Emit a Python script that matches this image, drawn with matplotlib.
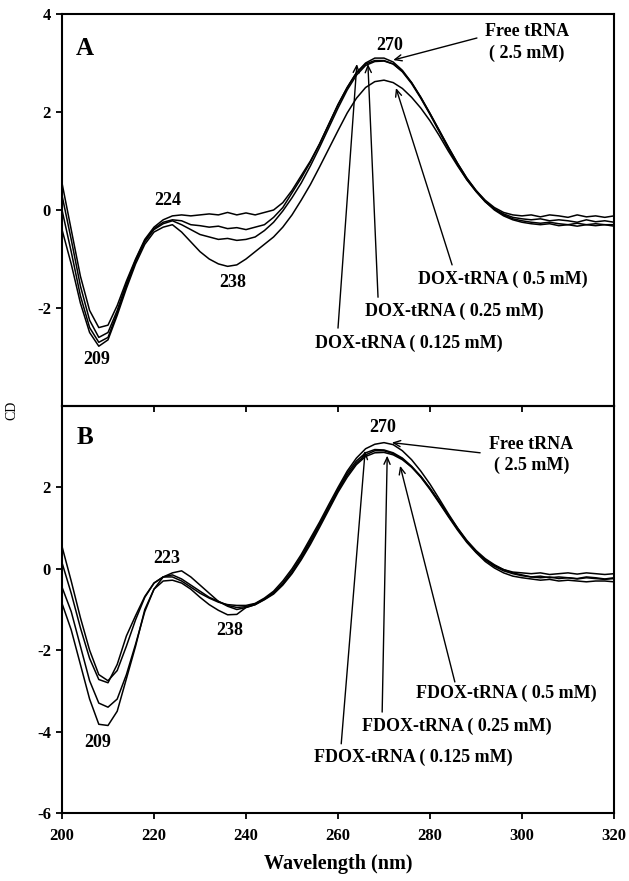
import numpy as np
import matplotlib
matplotlib.use('Agg')
from matplotlib import pyplot as plt

plt.rcParams['font.family'] = ['Liberation Serif', 'DejaVu Serif']
plt.rcParams['font.weight'] = 'bold'
plt.rcParams['axes.unicode_minus'] = False

# wavelength grid (nm)
wl = np.arange(200, 322, 2)

# Panel A: free tRNA and DOX-tRNA complexes
free_A = [0.55, -0.4, -1.35, -2.05, -2.4, -2.35, -1.95, -1.45, -1.0, -0.6,
          -0.35, -0.2, -0.12, -0.1, -0.12, -0.1, -0.08, -0.1, -0.05, -0.1,
          -0.06, -0.1, -0.05, 0.0, 0.15, 0.4, 0.7, 1.0, 1.35, 1.75,
          2.15, 2.5, 2.8, 3.0, 3.1, 3.1, 3.02, 2.85, 2.6, 2.3,
          1.97, 1.62, 1.28, 0.95, 0.65, 0.4, 0.2, 0.05, -0.05, -0.1,
          -0.12, -0.1, -0.14, -0.1, -0.12, -0.15, -0.1, -0.14, -0.12, -0.15, -0.12]
dox_0125 = [0.3, -0.6, -1.55, -2.25, -2.6, -2.5, -2.05, -1.5, -1.02, -0.62,
            -0.38, -0.25, -0.2, -0.22, -0.3, -0.32, -0.35, -0.33, -0.38, -0.36,
            -0.4, -0.35, -0.3, -0.15, 0.05, 0.35, 0.65, 0.98, 1.35, 1.75,
            2.15, 2.5, 2.8, 2.98, 3.05, 3.05, 2.98, 2.82, 2.58, 2.28,
            1.95, 1.6, 1.25, 0.92, 0.62, 0.38, 0.17, 0.02, -0.08, -0.15,
            -0.18, -0.2, -0.18, -0.22, -0.2, -0.22, -0.25, -0.2, -0.24, -0.22, -0.25]
dox_025 = [0.0, -0.85, -1.75, -2.4, -2.7, -2.6, -2.1, -1.55, -1.05, -0.65,
           -0.4, -0.28, -0.22, -0.3, -0.4, -0.5, -0.55, -0.6, -0.58, -0.62,
           -0.6, -0.55, -0.42, -0.25, -0.02, 0.25, 0.55, 0.9, 1.28, 1.68,
           2.08, 2.45, 2.75, 2.95, 3.03, 3.04, 2.98, 2.83, 2.6, 2.3,
           1.97, 1.63, 1.28, 0.95, 0.65, 0.4, 0.18, 0.02, -0.1, -0.18,
           -0.22, -0.25, -0.27, -0.25, -0.28, -0.3, -0.27, -0.3, -0.28, -0.3, -0.3]
dox_05 = [-0.4, -1.1, -1.9, -2.5, -2.78, -2.65, -2.15, -1.6, -1.1, -0.7,
          -0.45, -0.35, -0.3, -0.45, -0.65, -0.85, -1.0, -1.1, -1.15, -1.12,
          -1.0, -0.85, -0.7, -0.55, -0.35, -0.1, 0.2, 0.52, 0.88, 1.25,
          1.62, 1.98, 2.28, 2.5, 2.62, 2.65, 2.6, 2.48, 2.3, 2.08,
          1.82, 1.52, 1.2, 0.9, 0.62, 0.38, 0.17, 0.0, -0.12, -0.2,
          -0.25, -0.28, -0.3, -0.28, -0.32, -0.3, -0.33, -0.3, -0.32, -0.3, -0.33]

# Panel B: free tRNA and FDOX-tRNA complexes
free_B = [0.55, -0.3, -1.2, -2.0, -2.6, -2.75, -2.5, -1.9, -1.25, -0.7,
          -0.35, -0.2, -0.2, -0.3, -0.45, -0.6, -0.72, -0.82, -0.88, -0.9,
          -0.9, -0.85, -0.72, -0.55, -0.3, 0.0, 0.35, 0.75, 1.15, 1.58,
          2.0, 2.4, 2.72, 2.95, 3.06, 3.1, 3.05, 2.9, 2.68, 2.4,
          2.08, 1.72, 1.35, 1.0, 0.68, 0.42, 0.22, 0.08, -0.02, -0.08,
          -0.1, -0.12, -0.1, -0.14, -0.12, -0.1, -0.13, -0.1, -0.12, -0.14, -0.12]
fdox_0125 = [0.15, -0.6, -1.45, -2.2, -2.72, -2.8, -2.35, -1.65, -1.15, -0.68,
             -0.35, -0.2, -0.15, -0.25, -0.4, -0.55, -0.7, -0.8, -0.9, -0.95,
             -0.93, -0.86, -0.74, -0.58, -0.35, -0.05, 0.3, 0.7, 1.1, 1.52,
             1.95, 2.35, 2.65, 2.85, 2.93, 2.92, 2.85, 2.72, 2.52, 2.27,
             1.97, 1.64, 1.3, 0.97, 0.67, 0.42, 0.22, 0.06, -0.05, -0.12,
             -0.17, -0.2, -0.18, -0.22, -0.2, -0.22, -0.24, -0.2, -0.22, -0.25, -0.22]
fdox_025 = [-0.45, -1.05, -1.9, -2.75, -3.3, -3.4, -3.2, -2.6, -1.85, -1.05,
            -0.5, -0.2, -0.1, -0.05, -0.2, -0.4, -0.6, -0.8, -0.92, -1.0,
            -0.95, -0.88, -0.75, -0.6, -0.38, -0.1, 0.25, 0.65, 1.07, 1.5,
            1.92, 2.3, 2.6, 2.8, 2.9, 2.9, 2.83, 2.7, 2.5, 2.25,
            1.95, 1.62, 1.28, 0.95, 0.65, 0.4, 0.18, 0.02, -0.1, -0.18,
            -0.22, -0.25, -0.28, -0.26, -0.3, -0.28, -0.3, -0.32, -0.3, -0.3, -0.32]
fdox_05 = [-0.85, -1.5, -2.35, -3.2, -3.82, -3.85, -3.5, -2.7, -1.9, -1.0,
           -0.5, -0.3, -0.28, -0.35, -0.5, -0.7, -0.88, -1.02, -1.13, -1.12,
           -0.95, -0.88, -0.76, -0.62, -0.4, -0.12, 0.22, 0.6, 1.02, 1.45,
           1.88, 2.25, 2.56, 2.76, 2.85, 2.86, 2.8, 2.68, 2.5, 2.27,
           1.98, 1.66, 1.32, 1.0, 0.7, 0.45, 0.25, 0.1, -0.02, -0.1,
           -0.15, -0.2, -0.22, -0.2, -0.24, -0.22, -0.25, -0.22, -0.24, -0.26, -0.24]

W, H = 629, 881
fig = plt.figure(figsize=(W / 100, H / 100), dpi=100)
axA = fig.add_axes([62 / W, 1 - 406 / H, 552 / W, 392 / H])
axB = fig.add_axes([62 / W, 1 - 813 / H, 552 / W, 407 / H])

lw = 1.1
for y in [free_A, dox_0125, dox_025, dox_05]:
    axA.plot(wl, y, color='black', lw=lw)
for y in [free_B, fdox_0125, fdox_025, fdox_05]:
    axB.plot(wl, y, color='black', lw=lw)

for ax in [axA, axB]:
    ax.set_xlim(200, 320)
    ax.set_xticks(np.arange(200, 321, 20))
    for s in ax.spines.values():
        s.set_linewidth(1.5)
    ax.tick_params(direction='out', length=4, width=1.3, labelsize=12, pad=4)
    ax.tick_params(axis='x', pad=7)
    ax.set_facecolor('none')

axA.set_ylim(-4, 4)
axA.set_yticks([-2, 0, 2, 4])
axA.tick_params(axis='x', labelbottom=False)
axB.set_ylim(-6, 4)
axB.set_yticks([-6, -4, -2, 0, 2])

axB.set_xlabel('Wavelength (nm)', fontsize=14.5, fontweight='bold', labelpad=7)
fig.text(12 / W, 1 - 410 / H, 'CD', rotation=90, fontsize=10, fontweight='normal',
         ha='center', va='center')

arrow = dict(arrowstyle='->,head_length=0.5,head_width=0.22', color='black', lw=1.0,
             shrinkA=0, shrinkB=0)
txt = dict(fontsize=13, fontweight='bold', ha='center', va='center')

# Panel A annotations
axA.text(205, 3.3, 'A', fontsize=18, fontweight='bold', ha='center', va='center')
axA.text(207.6, -3.06, '209', **txt)
axA.text(223, 0.2, '224', **txt)
axA.text(237.2, -1.47, '238', **txt)
axA.text(271.3, 3.35, '270', **txt)
axA.text(301.1, 3.65, 'Free tRNA', **txt)
axA.text(301.1, 3.2, '( 2.5 mM)', **txt)
axA.annotate('', xy=(272, 3.06), xytext=(290.2, 3.51), arrowprops=arrow)
axA.text(295.9, -1.41, 'DOX-tRNA ( 0.5 mM)', **txt)
axA.text(285.2, -2.06, 'DOX-tRNA ( 0.25 mM)', **txt)
axA.text(275.4, -2.73, 'DOX-tRNA ( 0.125 mM)', **txt)
axA.annotate('', xy=(272.6, 2.49), xytext=(284.8, -1.12), arrowprops=arrow)
axA.annotate('', xy=(266.5, 2.98), xytext=(268.7, -1.78), arrowprops=arrow)
axA.annotate('', xy=(264.1, 2.98), xytext=(260.0, -2.41), arrowprops=arrow)

# Panel B annotations
axB.text(205, 3.22, 'B', fontsize=18, fontweight='bold', ha='center', va='center')
axB.text(207.8, -4.27, '209', **txt)
axB.text(222.8, 0.25, '223', **txt)
axB.text(236.5, -1.52, '238', **txt)
axB.text(269.8, 3.46, '270', **txt)
axB.text(302, 3.05, 'Free tRNA', **txt)
axB.text(302, 2.53, '( 2.5 mM)', **txt)
axB.annotate('', xy=(271.7, 3.1), xytext=(290.9, 2.85), arrowprops=arrow)
axB.text(296.5, -3.07, 'FDOX-tRNA ( 0.5 mM)', **txt)
axB.text(285.9, -3.86, 'FDOX-tRNA ( 0.25 mM)', **txt)
axB.text(276.3, -4.64, 'FDOX-tRNA ( 0.125 mM)', **txt)
axB.annotate('', xy=(273.5, 2.53), xytext=(285.4, -2.78), arrowprops=arrow)
axB.annotate('', xy=(270.7, 2.78), xytext=(269.6, -3.52), arrowprops=arrow)
axB.annotate('', xy=(265.9, 2.9), xytext=(260.7, -4.3), arrowprops=arrow)

fig.savefig('out.png', dpi=100)
